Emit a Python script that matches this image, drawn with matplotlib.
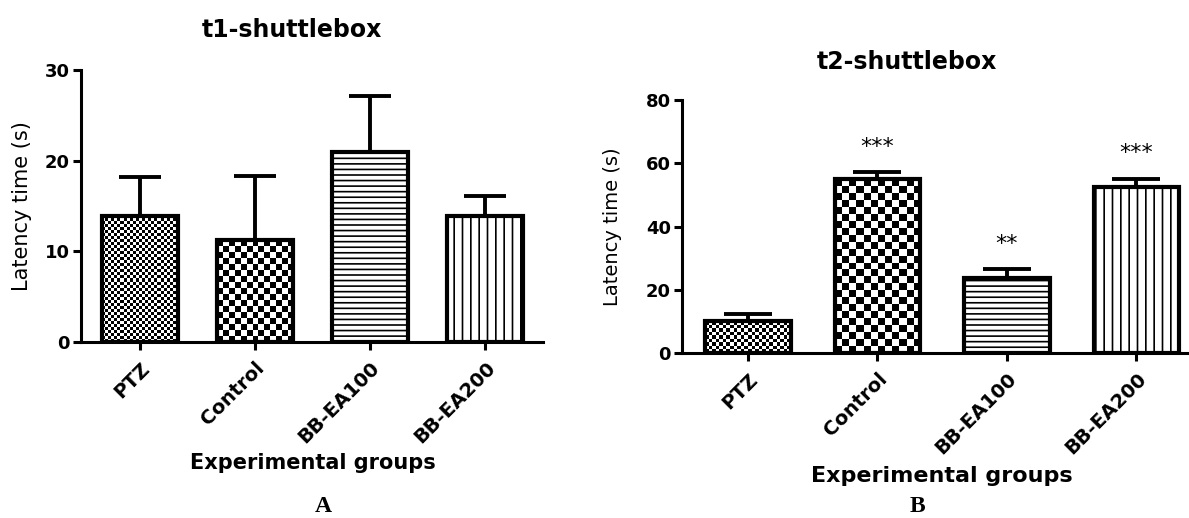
import numpy as np
import matplotlib
matplotlib.use("Agg")
import matplotlib.pyplot as plt

plt.rcParams['font.family'] = ['DejaVu Sans']
plt.rcParams['hatch.linewidth'] = 1.2

groups = ['PTZ', 'Control', 'BB-EA100', 'BB-EA200']

t1_means = [13.9, 11.2, 21.0, 13.9]
t1_sem = [4.3, 7.1, 6.1, 2.2]

t2_means = [10.1, 55.0, 23.7, 52.5]
t2_sem = [2.2, 2.3, 2.9, 2.6]
t2_stars = ['', '***', '**', '***']

# fill style per group: checker cell size in px, or a hatch string
fills = [('checker', 3), ('checker', 6), ('hatch', '---'), ('hatch', '||')]


def checker_fill(ax, bar, cell):
    x0, w, h = bar.get_x(), bar.get_width(), bar.get_height()
    p0 = ax.transData.transform((x0, 0))
    p1 = ax.transData.transform((x0 + w, h))
    ncol = max(1, int(round((p1[0] - p0[0]) / cell)))
    nrow = max(1, int(round((p1[1] - p0[1]) / cell)))
    ii, jj = np.indices((nrow, ncol))
    pattern = (ii + jj) % 2
    im = ax.imshow(pattern, cmap='gray', extent=(x0, x0 + w, 0, h),
                   interpolation='nearest', aspect='auto', zorder=2.5)
    im.set_clip_path(bar)


def draw_panel(ax, means, sem, ymax, ystep, capsize, cells, stars=None):
    x = np.arange(len(groups))
    ax.set_xlim(-0.51, 3.5)
    ax.set_ylim(0, ymax)
    bars = ax.bar(x, means, width=0.66, color='white', edgecolor='none', zorder=2)
    for bar, (kind, val), c in zip(bars, fills, cells):
        if kind == 'checker':
            checker_fill(ax, bar, c)
        else:
            bar.set_hatch(val)
            bar.set_edgecolor('black')
            bar.set_linewidth(0)
    ax.bar(x, means, width=0.66, fill=False, edgecolor='black', linewidth=3, zorder=3)
    ax.errorbar(x, means, yerr=[np.zeros(len(sem)), sem], fmt='none', ecolor='black',
                elinewidth=2.8, capsize=capsize, capthick=2.8, zorder=1)
    if stars:
        for xi, m, s, st in zip(x, means, sem, stars):
            if st:
                ax.text(xi, m + s + ymax * 0.1, st, ha='center', va='center', fontsize=16)

    ax.set_xlim(-0.51, 3.5)
    ax.set_ylim(0, ymax)
    ax.set_yticks(np.arange(0, ymax + 1, ystep))
    ax.set_xticks(x)
    ax.set_xticklabels(groups, rotation=45, ha='right', rotation_mode='anchor',
                       fontweight='bold', fontsize=14)
    for lab in ax.get_yticklabels():
        lab.set_fontweight('bold')
        lab.set_fontsize(13)
    for side in ['top', 'right']:
        ax.spines[side].set_visible(False)
    for side in ['left', 'bottom']:
        ax.spines[side].set_linewidth(2.2)
    ax.tick_params(axis='both', width=2.2, length=6, pad=2)
    ax.tick_params(axis='x', pad=6)


fig = plt.figure(figsize=(11.89, 5.18), dpi=100)
ax1 = fig.add_axes([0.0681, 0.3398, 0.3886, 0.5251])
ax2 = fig.add_axes([0.5736, 0.3185, 0.4365, 0.4884])

draw_panel(ax1, t1_means, t1_sem, 30, 10, 15, [3, 6, 0, 0])
draw_panel(ax2, t2_means, t2_sem, 80, 20, 17, [3.5, 7, 0, 0], stars=t2_stars)

# left panel text
ax1.text(0.457, 1.147, 't1-shuttlebox', transform=ax1.transAxes, ha='center',
         va='center', fontsize=17, fontweight='bold')
ax1.set_ylabel('Latency time (s)', fontsize=15)
ax1.yaxis.label.set_va('center')
ax1.yaxis.set_label_coords(-0.128, 0.5)
ax1.set_xlabel('Experimental groups', fontsize=15, fontweight='bold')
ax1.xaxis.label.set_va('center')
ax1.xaxis.set_label_coords(0.502, -0.445)

# right panel text
ax2.text(0.434, 1.150, 't2-shuttlebox', transform=ax2.transAxes, ha='center',
         va='center', fontsize=17, fontweight='bold')
ax2.set_ylabel('Latency time (s)', fontsize=14)
ax2.yaxis.label.set_va('center')
ax2.yaxis.set_label_coords(-0.133, 0.5)
ax2.set_xlabel('Experimental groups', fontsize=16, fontweight='bold')
ax2.xaxis.label.set_va('center')
ax2.xaxis.set_label_coords(0.501, -0.486)

fig.text(323 / 1189, 1 - 507 / 518, 'A', ha='center', va='center', fontsize=17,
         fontweight='bold', family='Liberation Serif')
fig.text(917 / 1189, 1 - 507 / 518, 'B', ha='center', va='center', fontsize=17,
         fontweight='bold', family='Liberation Serif')

fig.savefig('out.png', dpi=100)
